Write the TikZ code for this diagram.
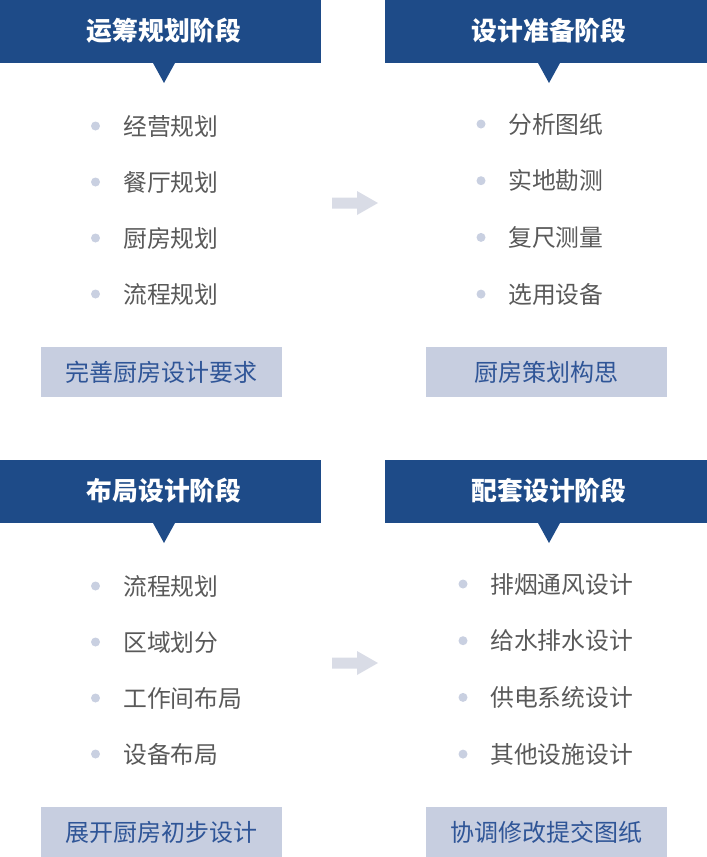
\documentclass[tikz,border=0pt]{standalone}
\usepackage{fontspec}
\setmainfont{Noto Sans CJK SC}
\usetikzlibrary{positioning}
\definecolor{hdr}{HTML}{1E4B88}
\definecolor{dotc}{HTML}{C9D0E1}
\definecolor{boxc}{HTML}{C7CEE0}
\definecolor{boxt}{HTML}{2F5597}
\definecolor{itemt}{HTML}{595959}
\definecolor{arrc}{HTML}{D9DCE6}
\begin{document}
\begin{tikzpicture}[x=1pt,y=-1pt,
  hdrbox/.style={fill=hdr,draw=none},
  hdrtext/.style={text=white,font=\fontsize{25.8}{27}\selectfont\bfseries,inner sep=0},
  itemtext/.style={text=itemt,font=\fontsize{23.8}{25}\selectfont,anchor=west,inner sep=0},
  dotmark/.style={circle,fill=dotc,minimum size=9pt,inner sep=0},
  sumbox/.style={fill=boxc,draw=none,minimum width=241pt,minimum height=50pt,inner sep=0,text=boxt,font=\fontsize{24}{26}\selectfont},
  flowarrow/.style={fill=arrc,draw=none}]
\useasboundingbox (0,0) rectangle (707,857);
\newcommand{\mypanel}[5]{%
  % #1 name, #2 header left x, #3 header right x, #4 top y, #5 triangle x
  \fill[hdr] (#2,#4) rectangle (#3,#4+63);
  \fill[hdr] (#5-11,#4+63) -- (#5+11,#4+63) -- (#5,#4+83) -- cycle;
}
% ================= top-left
\mypanel{a}{0}{321}{0}{164}
\node[hdrtext] (ah) at (164,31) {运筹规划阶段};
\foreach \t [count=\i] in {经营规划,餐厅规划,厨房规划,流程规划}{
  \node[dotmark] (ad\i) at (95.5,{126+(\i-1)*56}) {};
  \node[itemtext] (ai\i) at (123,{126+(\i-1)*56}) {\t};
}
\node[sumbox] (as) at (161.5,372) {完善厨房设计要求};
% ================= top-right
\mypanel{b}{385}{707}{0}{549}
\node[hdrtext] (bh) at (549,31) {设计准备阶段};
\foreach \t [count=\i] in {分析图纸,实地勘测,复尺测量,选用设备}{
  \node[dotmark] (bd\i) at (481,{124+(\i-1)*56.7}) {};
  \node[itemtext] (bi\i) at (508,{124+(\i-1)*56.7}) {\t};
}
\node[sumbox] (bs) at (546.5,372) {厨房策划构思};
% ================= bottom-left
\mypanel{c}{0}{321}{460}{164}
\node[hdrtext] (ch) at (164,491) {布局设计阶段};
\foreach \t [count=\i] in {流程规划,区域划分,工作间布局,设备布局}{
  \node[dotmark] (cd\i) at (95.5,{586+(\i-1)*56}) {};
  \node[itemtext] (ci\i) at (123,{586+(\i-1)*56}) {\t};
}
\node[sumbox] (cs) at (161.5,832) {展开厨房初步设计};
% ================= bottom-right
\mypanel{d}{385}{707}{460}{549}
\node[hdrtext] (dh) at (549,491) {配套设计阶段};
\foreach \t [count=\i] in {排烟通风设计,给水排水设计,供电系统设计,其他设施设计}{
  \node[dotmark] (dd\i) at (463,{584+(\i-1)*56.7}) {};
  \node[itemtext] (di\i) at (490,{584+(\i-1)*56.7}) {\t};
}
\node[sumbox] (ds) at (546.5,832) {协调修改提交图纸};
% ================= arrows
\foreach \yy in {203,663}{
  \fill[arrc] (332,\yy-5.5) -- (357,\yy-5.5) -- (357,\yy-12) -- (378,\yy) -- (357,\yy+12) -- (357,\yy+5.5) -- (332,\yy+5.5) -- cycle;
}
\end{tikzpicture}
\end{document}
